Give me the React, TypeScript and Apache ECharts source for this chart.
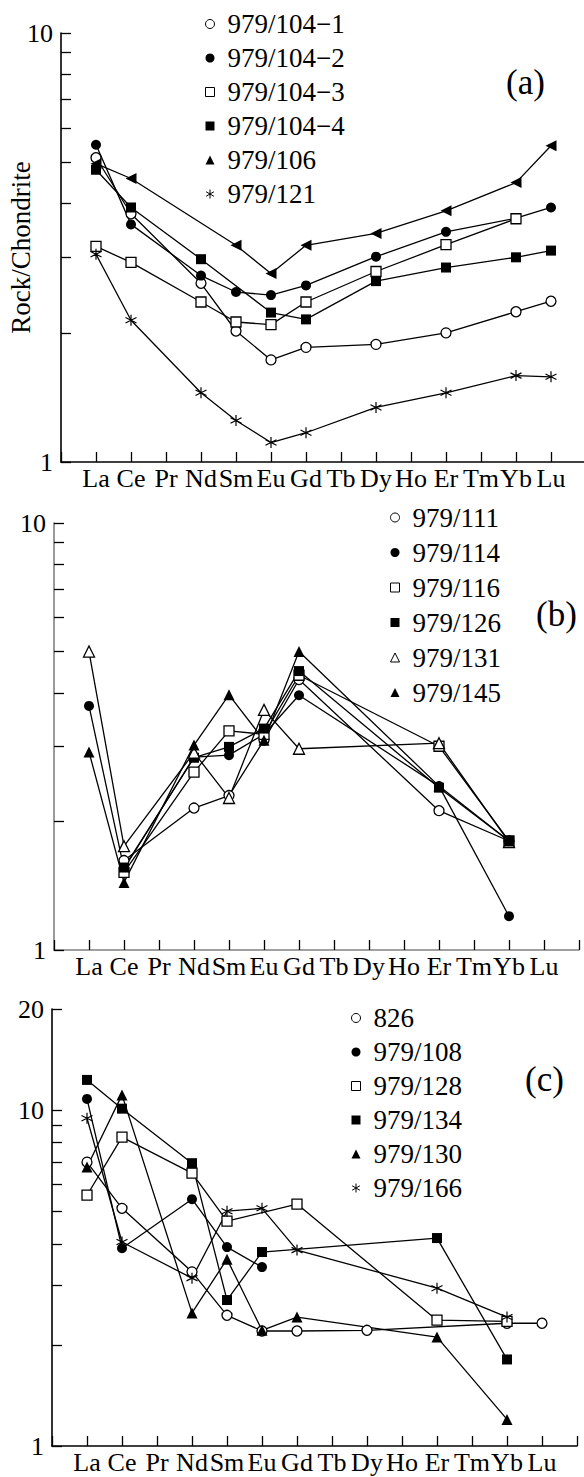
import React, { useEffect, useRef } from 'react';
import * as echarts from 'echarts';

const elements = ['La', 'Ce', 'Pr', 'Nd', 'Sm', 'Eu', 'Gd', 'Tb', 'Dy', 'Ho', 'Er', 'Tm', 'Yb', 'Lu'];

// Panel (a)
const namesA = ['979/104−1', '979/104−2', '979/104−3', '979/104−4', '979/106', '979/121'];
const a104_1 = [5.12, 3.79, null, 2.61, 2.02, 1.73, 1.85, null, 1.88, null, 2.0, null, 2.24, 2.37];
const a104_2 = [5.49, 3.58, null, 2.72, 2.49, 2.45, 2.58, null, 3.01, null, 3.44, null, 3.7, 3.92];
const a104_3 = [3.18, 2.92, null, 2.36, 2.12, 2.09, 2.36, null, 2.78, null, 3.21, null, 3.69, null];
const a104_4 = [4.8, 3.92, null, 2.97, null, 2.23, 2.15, null, 2.64, null, 2.84, null, 3.0, 3.11];
const a106 = [4.96, 4.58, null, null, 3.2, 2.75, 3.2, null, 3.41, null, 3.85, null, 4.48, 5.46];
const a121 = [3.05, 2.14, null, 1.45, 1.25, 1.11, 1.17, null, 1.34, null, 1.45, null, 1.59, 1.58];

// Panel (b)
const namesB = ['979/111', '979/114', '979/116', '979/126', '979/131', '979/145'];
const b111 = [null, 1.62, null, 2.15, 2.3, 3.1, 4.3, null, null, null, 2.12, null, 1.8, null];
const b114 = [3.73, 1.55, null, 2.83, 2.86, 3.2, 3.95, null, null, null, 2.42, null, 1.2, null];
const b116 = [null, 1.52, null, 2.61, 3.26, 3.2, 4.4, null, null, null, 3.0, null, 1.8, null];
const b126 = [null, 1.56, null, 2.82, 2.99, 3.3, 4.5, null, null, null, 2.4, null, 1.8, null];
const b131 = [5.0, 1.75, null, 2.9, 2.27, 3.65, 2.96, null, null, null, 3.05, null, 1.79, null];
const b145 = [2.91, 1.44, null, 3.02, 3.96, 3.1, 5.0, null, null, null, 2.42, null, 1.8, null];

// Panel (c)
const namesC = ['826', '979/108', '979/128', '979/134', '979/130', '979/166'];
const c826 = [7.0, 5.1, null, 3.3, 2.45, 2.2, 2.2, null, 2.21, null, null, null, 2.32, 2.32];
const c108 = [10.8, 3.88, null, 5.43, 3.91, 3.41, null, null, null, null, null, null, null, null];
const c128 = [5.58, 8.31, null, 6.49, 4.67, null, 5.25, null, null, null, 2.37, null, 2.35, null];
const c134 = [12.3, 10.1, null, 6.95, 2.72, 3.78, null, null, null, null, 4.16, null, 1.81, null];
const c130 = [6.77, 11.1, null, 2.49, 3.6, 2.21, 2.42, null, null, null, 2.11, null, 1.2, null];
const c166 = [9.46, 4.05, null, 3.16, 5.0, 5.1, 3.83, null, null, null, 2.95, null, 2.42, null];

const yTicks10 = [1, 2, 3, 4, 5, 6, 7, 8, 9, 10];
const yTicks20 = [1, 2, 3, 4, 5, 6, 7, 8, 9, 10, 20];
const yLabels10 = [1, 10];
const yLabels20 = [1, 10, 20];

const FONT = 'Liberation Serif';
const ASTERISK = 'path://M5,0 L5,10 M0.67,2.5 L9.33,7.5 M0.67,7.5 L9.33,2.5';

const markers: Record<string, any> = {
  openCircle: { symbol: 'circle', size: 10, icon: 'circle', style: { color: '#fff', borderColor: '#000', borderWidth: 1.3 } },
  filledCircle: { symbol: 'circle', size: 10, icon: 'circle', style: { color: '#000', borderColor: '#000', borderWidth: 0 } },
  openSquare: { symbol: 'rect', size: 10, icon: 'rect', style: { color: '#fff', borderColor: '#000', borderWidth: 1.3 } },
  filledSquare: { symbol: 'rect', size: 10, icon: 'rect', style: { color: '#000', borderColor: '#000', borderWidth: 0 } },
  openTriangle: { symbol: 'triangle', size: 11, icon: 'triangle', style: { color: '#fff', borderColor: '#000', borderWidth: 1.3 } },
  filledTriangle: { symbol: 'triangle', size: 11, icon: 'triangle', style: { color: '#000', borderColor: '#000', borderWidth: 0 } },
  asterisk: { symbol: ASTERISK, size: 11, icon: ASTERISK, style: { color: '#000', borderColor: '#000', borderWidth: 1.2 } },
};

const panels = [
  {
    names: namesA,
    values: [a104_1, a104_2, a104_3, a104_4, a106, a121],
    kinds: ['openCircle', 'filledCircle', 'openSquare', 'filledSquare', 'filledTriangle', 'asterisk'],
    rotate: [0, 0, 0, 0, 90, 0],
    grid: { left: 61, top: 33, width: 525, height: 429 },
    yMax: 10, yTicks: yTicks10, yLabels: yLabels10,
    axisColor: '#000',
    legend: { left: 200, top: 2, lineHeight: 34 },
    tag: { text: '(a)', x: 506, y: 82 },
    yName: 'Rock/Chondrite',
  },
  {
    names: namesB,
    values: [b111, b114, b116, b126, b131, b145],
    kinds: ['openCircle', 'filledCircle', 'openSquare', 'filledSquare', 'openTriangle', 'filledTriangle'],
    rotate: [0, 0, 0, 0, 0, 0],
    grid: { left: 54, top: 523, width: 525, height: 427 },
    yMax: 10, yTicks: yTicks10, yLabels: yLabels10,
    axisColor: '#808080',
    legend: { left: 385, top: 495, lineHeight: 35 },
    tag: { text: '(b)', x: 536, y: 614 },
    yName: '',
  },
  {
    names: namesC,
    values: [c826, c108, c128, c134, c130, c166],
    kinds: ['openCircle', 'filledCircle', 'openSquare', 'filledSquare', 'filledTriangle', 'asterisk'],
    rotate: [0, 0, 0, 0, 0, 0],
    grid: { left: 52, top: 1009, width: 525, height: 437 },
    yMax: 20, yTicks: yTicks20, yLabels: yLabels20,
    axisColor: '#000',
    legend: { left: 346, top: 996, lineHeight: 34 },
    tag: { text: '(c)', x: 525, y: 1079 },
    yName: '',
  },
];

function buildOption() {
  const grid: any[] = [];
  const xAxis: any[] = [];
  const yAxis: any[] = [];
  const series: any[] = [];
  const legend: any[] = [];
  const graphic: any[] = [];

  panels.forEach((p, k) => {
    grid.push({ ...p.grid, containLabel: false, outerBoundsMode: 'none' });
    xAxis.push({
      type: 'value',
      gridIndex: k,
      min: -1,
      max: 14,
      interval: 1,
      axisLine: { show: true, onZero: false, lineStyle: { color: p.axisColor, width: 1.6 } },
      axisTick: { show: true, inside: true, length: 10, lineStyle: { color: '#000', width: 1.3 } },
      axisLabel: {
        formatter: (v: number) => elements[v] ?? '',
        fontSize: 26,
        fontFamily: FONT,
        color: '#000',
        margin: 3,
        hideOverlap: false,
      },
      splitLine: { show: false },
    });
    yAxis.push({
      type: 'log',
      logBase: 10,
      gridIndex: k,
      min: 1,
      max: p.yMax,
      name: p.yName,
      nameLocation: 'middle',
      nameGap: 27,
      nameMoveOverlap: false,
      nameTextStyle: { fontSize: 27, fontFamily: FONT, color: '#000' },
      axisLine: { show: true, onZero: false, lineStyle: { color: p.axisColor, width: 1.6 } },
      axisTick: { show: true, inside: true, length: 10, customValues: p.yTicks, lineStyle: { color: '#000', width: 1.3 } },
      axisLabel: { customValues: p.yLabels, fontSize: 26, fontFamily: FONT, color: '#000', margin: 8 },
      splitLine: { show: false },
      minorTick: { show: false },
    });
    p.names.forEach((name, i) => {
      const m = markers[p.kinds[i]];
      series.push({
        type: 'line',
        name,
        xAxisIndex: k,
        yAxisIndex: k,
        data: p.values[i].map((v, j) => [j, v]).filter((d) => d[1] != null),
        symbol: m.symbol,
        symbolSize: m.size,
        symbolRotate: p.rotate[i],
        itemStyle: { ...m.style },
        lineStyle: { color: '#000', width: 1.3 },
        connectNulls: true,
        silent: true,
        emphasis: { disabled: true },
      });
    });
    legend.push({
      orient: 'vertical',
      left: p.legend.left,
      top: p.legend.top,
      itemWidth: 9,
      itemHeight: 9,
      itemGap: 0,
      symbolRotate: 0,
      selectedMode: false,
      textStyle: { fontSize: 27, fontFamily: FONT, color: '#000', lineHeight: p.legend.lineHeight, padding: [0, 0, 0, 8] },
      data: p.names.map((name, i) => {
        const m = markers[p.kinds[i]];
        return { name, icon: m.icon, itemStyle: { ...m.style, borderWidth: m.style.borderWidth ? 1 : 0 } };
      }),
    });
    graphic.push({
      type: 'text',
      x: p.tag.x,
      y: p.tag.y,
      style: { text: p.tag.text, font: `35px ${FONT}`, fill: '#000', align: 'left', verticalAlign: 'middle' },
    });
  });

  return { animation: false, backgroundColor: '#fff', grid, xAxis, yAxis, series, legend, graphic };
}

export default function App() {
  const ref = useRef<HTMLDivElement>(null);
  useEffect(() => {
    if (!ref.current) return;
    const chart = echarts.init(ref.current, undefined, { renderer: 'svg' });
    chart.setOption(buildOption() as any);
    return () => chart.dispose();
  }, []);
  return <div ref={ref} style={{ position: 'absolute', left: 0, top: 0, width: 584, height: 1477, background: '#fff' }} />;
}
